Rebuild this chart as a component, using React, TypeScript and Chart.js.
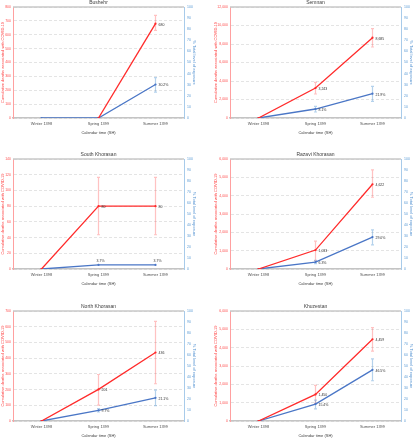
import React, { useEffect, useRef } from "react";
import { Chart, registerables } from "chart.js";
Chart.register(...registerables);

const categories = ["Winter 1398", "Spring 1399", "Summer 1399"];

const bushehrDeaths = [null, 0, 680];
const bushehrDeathsLow = [null, null, 632];
const bushehrDeathsHigh = [null, null, 740];
const bushehrExposure = [0, 0, 30.2];
const bushehrExposureLow = [null, null, 23.4];
const bushehrExposureHigh = [null, null, 36.3];

const semnanDeaths = [0, 3243, 8685];
const semnanDeathsLow = [null, 2595, 7676];
const semnanDeathsHigh = [null, 3856, 9657];
const semnanExposure = [0, 8.1, 21.9];
const semnanExposureLow = [null, 5.4, 15.0];
const semnanExposureHigh = [null, 10.5, 28.5];

const southDeaths = [0, 80, 80];
const southDeathsLow = [null, 43.6, 43.6];
const southDeathsHigh = [null, 116.7, 116.7];
const southExposure = [0, 3.7, 3.7];
const southExposureLow = [null, null, null];
const southExposureHigh = [null, null, null];

const razaviDeaths = [0, 1033, 4622];
const razaviDeathsLow = [null, 453, 3915];
const razaviDeathsHigh = [null, 1523, 5402];
const razaviExposure = [0, 6.3, 29.0];
const razaviExposureLow = [null, 4.8, 22.0];
const razaviExposureHigh = [null, 7.8, 35.6];

const northDeaths = [0, 201, 436];
const northDeathsLow = [null, 101, 237];
const northDeathsHigh = [null, 296, 634];
const northExposure = [0, 9.7, 21.1];
const northExposureLow = [null, 8.2, 13.9];
const northExposureHigh = [null, 11.2, 28.0];

const khuzDeaths = [0, 1450, 4459];
const khuzDeathsLow = [null, 960, 3807];
const khuzDeathsHigh = [null, 1940, 5093];
const khuzExposure = [0, 15.4, 46.5];
const khuzExposureLow = [null, 11.0, 36.6];
const khuzExposureHigh = [null, 19.0, 56.5];

const leftTitle = "Cumulative deaths associated with COVID-19";
const rightTitle = "% Total level of exposure";
const xTitle = "Calendar time (SH)";

type PanelProps = {
  title: string;
  deaths: (number | null)[];
  deathsLow: (number | null)[];
  deathsHigh: (number | null)[];
  exposure: (number | null)[];
  exposureLow: (number | null)[];
  exposureHigh: (number | null)[];
  leftMax: number;
  leftStep: number;
  col: number;
  row: number;
  blueAbove?: boolean;
};

const FONT = "'Liberation Sans', Arial, sans-serif";
const RED = "#ff2b2b";
const BLUE = "#4a76c6";

function Panel(p: PanelProps) {
  const ref = useRef<HTMLCanvasElement | null>(null);
  const tops = [0, 145, 290];
  const heights = [145, 145, 150];
  const plotTops = [7, 14, 21];
  const plotBottoms = [118, 124, 131];
  const h = heights[p.row];
  const w = 207;
  useEffect(() => {
    if (!ref.current) return;
    const padTop = plotTops[p.row];
    const xH = 19;
    const padBottom = Math.max(0, h - plotBottoms[p.row] - xH);
    const titleOff = p.col === 0 ? 10 : 14;
    const custom = {
      id: "custom",
      beforeDatasetsDraw(chart: any) {
        const ctx = chart.ctx;
        const xs = chart.scales.x;
        const y = chart.scales.y;
        const y1 = chart.scales.y1;
        const drawErr = (lo: (number | null)[], hi: (number | null)[], sc: any, color: string) => {
          ctx.save();
          ctx.strokeStyle = color;
          ctx.lineWidth = 1.2;
          for (let i = 0; i < categories.length; i++) {
            const l = lo[i], u = hi[i];
            if (l == null || u == null) continue;
            const x = xs.getPixelForValue(i);
            const yl = sc.getPixelForValue(l);
            const yu = sc.getPixelForValue(u);
            ctx.beginPath();
            ctx.moveTo(x, yl); ctx.lineTo(x, yu);
            ctx.moveTo(x - 1.5, yl); ctx.lineTo(x + 1.5, yl);
            ctx.moveTo(x - 1.5, yu); ctx.lineTo(x + 1.5, yu);
            ctx.stroke();
          }
          ctx.restore();
        };
        drawErr(p.deathsLow, p.deathsHigh, y, "rgba(255,80,80,0.35)");
        drawErr(p.exposureLow, p.exposureHigh, y1, "rgba(91,155,213,0.45)");
      },
      afterDraw(chart: any) {
        const ctx = chart.ctx;
        const a = chart.chartArea;
        const xs = chart.scales.x;
        const y = chart.scales.y;
        const y1 = chart.scales.y1;
        ctx.save();
        // top border
        ctx.strokeStyle = "#c8c8c8";
        ctx.lineWidth = 1.5;
        ctx.beginPath();
        ctx.moveTo(a.left, a.top); ctx.lineTo(a.right, a.top);
        ctx.stroke();
        // chart title
        ctx.fillStyle = "#404040";
        ctx.textAlign = "center";
        ctx.textBaseline = "middle";
        ctx.font = `5px ${FONT}`;
        ctx.fillText(p.title, (a.left + a.right) / 2, a.top - 4);
        // x title
        ctx.font = `4px ${FONT}`;
        ctx.fillText(xTitle, (a.left + a.right) / 2, a.bottom + 15);
        // left title
        ctx.save();
        ctx.translate(a.left - titleOff, (a.top + a.bottom) / 2);
        ctx.rotate(-Math.PI / 2);
        ctx.fillStyle = "#ff4040";
        ctx.fillText(leftTitle, 0, 0);
        ctx.restore();
        // right title
        ctx.save();
        ctx.translate(a.right + 10, (a.top + a.bottom) / 2);
        ctx.rotate(Math.PI / 2);
        ctx.fillStyle = "#4f8fd0";
        ctx.fillText(rightTitle, 0, 0);
        ctx.restore();
        // data labels
        ctx.fillStyle = "#333";
        ctx.font = `3.5px ${FONT}`;
        ctx.textAlign = "left";
        for (let i = 1; i < categories.length; i++) {
          const d = p.deaths[i];
          if (d != null && d > 0) {
            ctx.fillText(d.toLocaleString("en-US"), xs.getPixelForValue(i) + 3, y.getPixelForValue(d) + 1);
          }
          const e = p.exposure[i];
          if (e != null && e > 0) {
            const txt = e.toFixed(1) + "%";
            if (p.blueAbove) {
              ctx.textAlign = "center";
              ctx.fillText(txt, xs.getPixelForValue(i) + 2, y1.getPixelForValue(e) - 4);
              ctx.textAlign = "left";
            } else {
              ctx.fillText(txt, xs.getPixelForValue(i) + 3, y1.getPixelForValue(e) + 1);
            }
          }
        }
        ctx.restore();
      },
    };
    const chart = new Chart(ref.current, {
      type: "line",
      data: {
        labels: categories,
        datasets: [
          {
            label: "deaths",
            data: p.deaths,
            yAxisID: "y",
            borderColor: RED,
            backgroundColor: RED,
            borderWidth: 1.3,
            pointRadius: 1.1,
            pointBorderWidth: 0,
            spanGaps: false,
          },
          {
            label: "exposure",
            data: p.exposure,
            yAxisID: "y1",
            borderColor: BLUE,
            backgroundColor: BLUE,
            borderWidth: 1.3,
            pointRadius: 1.1,
            pointBorderWidth: 0,
          },
        ],
      },
      options: {
        responsive: false,
        animation: false,
        layout: {
          padding: {
            top: padTop,
            bottom: padBottom,
            left: p.col === 0 ? 0 : 10,
            right: p.col === 0 ? 10 : 0,
          },
        },
        plugins: { legend: { display: false }, tooltip: { enabled: false } },
        scales: {
          x: {
            offset: true,
            grid: { display: false, drawTicks: false },
            border: { color: "#c4c4c4", width: 1.5 },
            ticks: { font: { size: 4, family: FONT }, color: "#505050", padding: 3, maxRotation: 0, autoSkip: false },
            afterFit: (s: any) => { s.height = xH; },
          },
          y: {
            position: "left",
            min: 0,
            max: p.leftMax,
            ticks: { stepSize: p.leftStep, font: { size: 3.5, family: FONT }, color: "#ff5050", padding: 2 },
            grid: { color: "#e4e4e4", drawTicks: false },
            border: { color: "#ffa0a0", width: 1, dash: [3, 2] },
            afterFit: (s: any) => { s.width = 13; },
          },
          y1: {
            position: "right",
            min: 0,
            max: 100,
            ticks: { stepSize: 10, font: { size: 3.5, family: FONT }, color: "#5b9bd5", padding: 3 },
            grid: { display: false, drawTicks: false },
            border: { color: "#a8cbea", width: 1 },
            afterFit: (s: any) => { s.width = 13; },
          },
        },
      },
      plugins: [custom],
    } as any);
    return () => chart.destroy();
  }, []);
  return (
    <div style={{ position: "absolute", left: p.col * 207, top: tops[p.row], width: w, height: h }}>
      <canvas ref={ref} width={w} height={h} style={{ width: w, height: h, display: "block" }} />
    </div>
  );
}

export default function App() {
  return (
    <div style={{ position: "absolute", left: 0, top: 0, width: 414, height: 440, background: "#fff" }}>
      <Panel title="Bushehr" deaths={bushehrDeaths} deathsLow={bushehrDeathsLow} deathsHigh={bushehrDeathsHigh}
        exposure={bushehrExposure} exposureLow={bushehrExposureLow} exposureHigh={bushehrExposureHigh}
        leftMax={800} leftStep={100} col={0} row={0} />
      <Panel title="Semnan" deaths={semnanDeaths} deathsLow={semnanDeathsLow} deathsHigh={semnanDeathsHigh}
        exposure={semnanExposure} exposureLow={semnanExposureLow} exposureHigh={semnanExposureHigh}
        leftMax={12000} leftStep={2000} col={1} row={0} />
      <Panel title="South Khorasan" deaths={southDeaths} deathsLow={southDeathsLow} deathsHigh={southDeathsHigh}
        exposure={southExposure} exposureLow={southExposureLow} exposureHigh={southExposureHigh}
        leftMax={140} leftStep={20} col={0} row={1} blueAbove />
      <Panel title="Razavi Khorasan" deaths={razaviDeaths} deathsLow={razaviDeathsLow} deathsHigh={razaviDeathsHigh}
        exposure={razaviExposure} exposureLow={razaviExposureLow} exposureHigh={razaviExposureHigh}
        leftMax={6000} leftStep={1000} col={1} row={1} />
      <Panel title="North Khorasan" deaths={northDeaths} deathsLow={northDeathsLow} deathsHigh={northDeathsHigh}
        exposure={northExposure} exposureLow={northExposureLow} exposureHigh={northExposureHigh}
        leftMax={700} leftStep={100} col={0} row={2} />
      <Panel title="Khuzestan" deaths={khuzDeaths} deathsLow={khuzDeathsLow} deathsHigh={khuzDeathsHigh}
        exposure={khuzExposure} exposureLow={khuzExposureLow} exposureHigh={khuzExposureHigh}
        leftMax={6000} leftStep={1000} col={1} row={2} />
    </div>
  );
}
